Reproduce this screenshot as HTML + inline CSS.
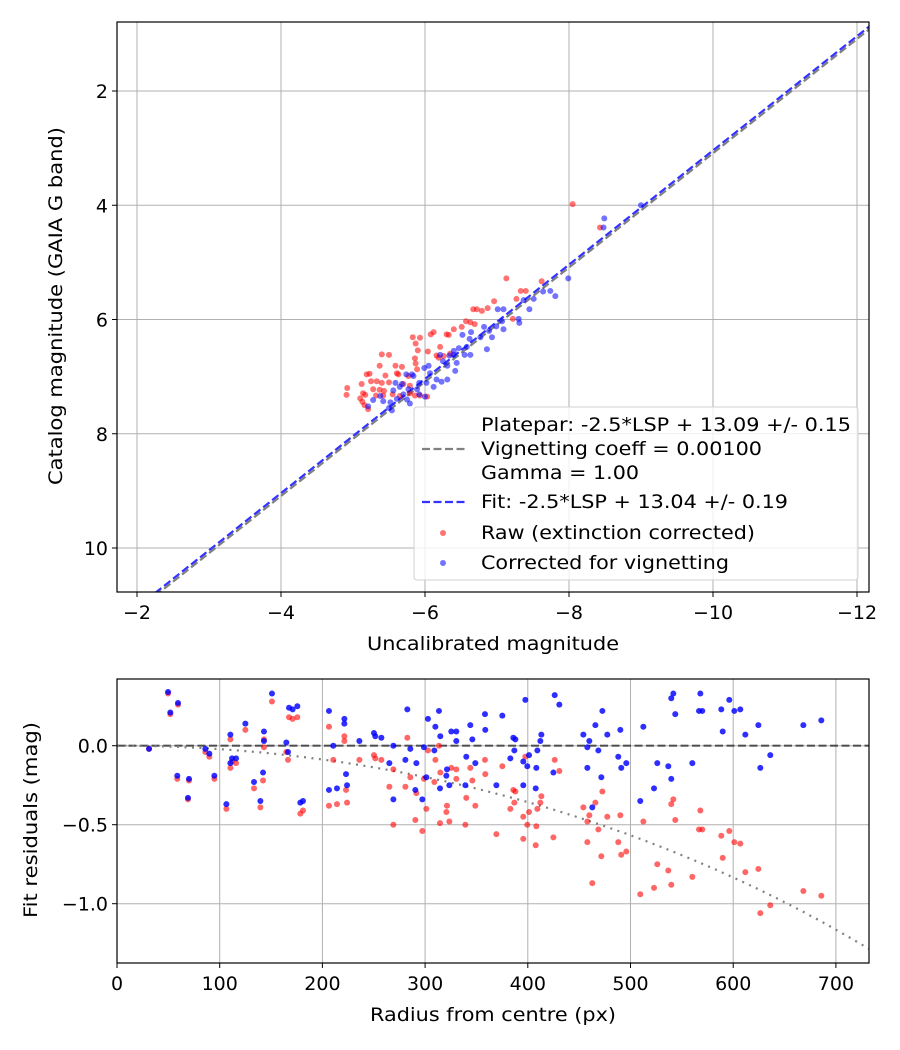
<!DOCTYPE html>
<html><head><meta charset="utf-8"><style>
html,body{margin:0;padding:0;background:#fff}
svg{display:block;font-family:"DejaVu Sans","Liberation Sans",sans-serif}
</style></head><body>
<svg id="fig" width="900" height="1050" viewBox="0 0 900 1050">
<rect width="900" height="1050" fill="#fff"/>
<g id="topPlot"></g>
<g id="botPlot"></g>
</svg>
<script>
// ---- top chart data ----
const rawX = [-8.05,-8.43,-7.13,-7.62,-7.33,-7.40,-7.27,-6.96,-6.67,-6.72,-6.79,-6.87,-6.57,-6.63,-6.69,-7.22,-6.51,-6.40,-6.12,-6.08,-6.30,-6.33,-5.83,-5.93,-5.87,-5.90,-6.04,-6.21,-5.40,-5.50,-6.16,-5.59,-5.68,-5.37,-5.86,-5.87,-5.89,-5.19,-5.23,-5.45,-5.61,-5.63,-5.77,-5.12,-5.25,-5.33,-5.40,-5.50,-4.92,-4.91,-5.14,-5.17,-5.28,-5.37,-5.43,-5.10,-5.13,-5.16,-5.21,-5.32,-5.42,-5.55,-5.65,-5.79,-5.86,-5.93,-6.03,-5.70,-5.79,-6.19,-6.26,-6.35];
const rawY = [3.98,4.39,5.28,5.33,5.50,5.50,5.64,5.68,5.82,5.82,5.85,5.80,6.03,6.05,6.08,5.99,6.13,6.17,6.22,6.26,6.26,6.27,6.31,6.32,6.42,6.54,6.56,6.48,6.61,6.62,6.63,6.81,6.83,6.81,6.68,6.77,6.87,6.96,6.95,6.98,6.94,6.96,6.99,7.13,7.08,7.08,7.11,7.10,7.20,7.32,7.29,7.32,7.22,7.23,7.25,7.38,7.44,7.50,7.57,7.33,7.33,7.31,7.34,7.29,7.33,7.33,7.35,7.13,7.16,6.67,6.64,6.60];
const corX = [-9.0,-8.49,-8.48,-7.99,-7.74,-7.81,-7.64,-7.51,-7.45,-7.37,-7.30,-7.31,-7.09,-7.01,-7.07,-7.09,-6.82,-6.89,-6.93,-6.99,-6.77,-6.86,-6.64,-6.52,-6.62,-6.58,-6.63,-6.55,-6.47,-6.40,-6.40,-6.34,-6.44,-6.42,-6.25,-6.31,-6.21,-6.05,-5.99,-6.07,-6.16,-6.23,-6.31,-6.12,-6.02,-5.92,-5.84,-5.74,-5.82,-5.68,-5.59,-5.56,-5.65,-5.77,-5.89,-5.52,-5.61,-5.70,-5.79,-5.75,-5.38,-5.42,-5.28,-5.21,-5.50,-5.54,-6.00,-5.92];
const corY = [4.0,4.23,4.39,5.28,5.50,5.59,5.51,5.64,5.82,5.66,5.99,6.06,5.82,5.82,6.03,6.17,6.13,6.20,6.31,6.12,6.31,6.52,6.22,6.27,6.34,6.48,6.62,6.62,6.50,6.62,6.55,6.63,6.76,6.90,6.73,6.81,6.62,6.81,6.85,6.94,7.05,7.09,7.05,7.18,7.11,7.11,6.99,6.96,6.96,7.13,7.11,7.24,7.18,7.22,7.22,7.45,7.39,7.31,7.47,7.40,7.34,7.43,7.41,7.52,7.55,7.59,7.35,7.31];
const platepar = 13.09, fitZero = 13.04, vignCoeff = 0.001;
const topXTicks = [-2,-4,-6,-8,-10,-12];
const topYTicks = [2,4,6,8,10];
// ---- bottom chart data ----
const radius = [49.7,59.4,51.9,31.2,86,89.9,58.7,70.1,69.1,94.8,110.4,125,112,115.9,110.4,143.1,143.1,164.9,166.5,150.9,167.5,171,175.6,106.5,133.4,142.2,139.6,178.5,181.1,206.4,221.4,221.4,210.6,236,250.2,251.5,257.4,269.1,282.7,285.6,265.2,280.8,291.5,223,224,214.2,206.4,269.1,290.5,297.3,298.9,302.8,310,313.5,314.8,325.5,330.4,330.4,344,346,358.3,358.6,309,301.2,314.5,320.7,321.3,323.6,340.1,348.9,339.2,
375.2,397.6,385.9,387.9,386.9,383,395.6,399.5,401.2,409.3,412.2,413.2,408.3,407.7,395.6,369.4,426.2,430.7,424.9,454.1,459.9,458,465.8,472.6,468.7,458,471.6,462.8,477.4,490.1,488.1,491,495.9,512.5,509.5,526.1,522.9,536.8,539.7,539.7,541.7,543.6,560.2,568,566.7,569.9,588.4,589.8,596.2,601.1,606.9,611.8,624.5,626.4,636.1,668.3,685.8];
const resCorr = [0.34,0.27,0.21,-0.02,-0.02,-0.05,-0.19,-0.21,-0.33,-0.19,0.07,0.14,-0.08,-0.08,-0.11,0.09,0.03,0.02,-0.04,0.33,0.24,0.23,0.25,-0.37,-0.23,-0.17,-0.35,-0.36,-0.35,0.22,0.17,0.14,0.00,0.03,0.08,0.06,0.05,0.00,0.23,-0.02,-0.11,-0.09,-0.11,-0.18,-0.25,-0.27,-0.28,-0.34,-0.28,-0.34,-0.01,0.17,0.12,0.22,0.06,0.09,0.09,0.03,0.13,0.04,0.20,0.10,-0.03,-0.20,-0.27,-0.19,-0.15,-0.25,-0.07,-0.11,-0.25,
0.19,0.29,0.05,0.04,-0.03,-0.08,-0.10,-0.13,-0.06,-0.03,0.03,0.07,-0.14,-0.27,-0.25,-0.25,0.32,0.26,-0.17,0.07,0.03,-0.01,0.13,0.22,-0.03,-0.14,-0.20,-0.39,0.07,0.10,-0.07,-0.14,-0.11,0.12,-0.35,-0.11,-0.27,-0.13,-0.21,0.30,0.33,0.20,-0.11,0.33,0.22,0.22,0.23,0.09,0.29,0.22,0.23,0.07,0.13,-0.14,-0.06,0.13,0.16];
const resRaw = [0.33,0.26,0.20,-0.02,-0.04,-0.07,-0.21,-0.22,-0.34,-0.21,0.04,0.10,-0.10,-0.11,-0.14,0.04,-0.01,-0.04,-0.09,0.28,0.18,0.17,0.18,-0.40,-0.27,-0.22,-0.39,-0.43,-0.41,0.12,0.06,0.03,-0.09,-0.09,-0.06,-0.08,-0.09,-0.15,0.05,-0.20,-0.26,-0.26,-0.30,-0.28,-0.36,-0.37,-0.38,-0.50,-0.47,-0.54,-0.21,-0.03,-0.09,0.00,-0.17,-0.14,-0.15,-0.21,-0.14,-0.22,-0.09,-0.18,-0.23,-0.40,-0.49,-0.42,-0.38,-0.48,-0.33,-0.38,-0.50,
-0.13,-0.07,-0.28,-0.29,-0.36,-0.40,-0.45,-0.50,-0.42,-0.40,-0.36,-0.32,-0.51,-0.63,-0.59,-0.56,-0.09,-0.16,-0.58,-0.39,-0.44,-0.48,-0.36,-0.29,-0.53,-0.61,-0.70,-0.87,-0.45,-0.44,-0.61,-0.69,-0.67,-0.48,-0.94,-0.75,-0.90,-0.79,-0.88,-0.37,-0.34,-0.47,-0.83,-0.41,-0.53,-0.53,-0.57,-0.71,-0.54,-0.61,-0.62,-0.80,-0.78,-1.06,-1.01,-0.92,-0.95];
const botXTicks = [0,100,200,300,400,500,600,700];
const botYTicks = [0.0,-0.5,-1.0];
const botYLabels = ["0.0","\u22120.5","\u22121.0"];

const NS = "http://www.w3.org/2000/svg";
const FS = 19;
function mk(parent, tag, attrs, text){
  const e = document.createElementNS(NS, tag);
  for (const k in attrs) e.setAttribute(k, attrs[k]);
  if (text !== undefined) e.textContent = text;
  parent.appendChild(e); return e;
}
function fmtNeg(v){ return v < 0 ? "\u2212" + Math.abs(v) : String(v); }

// ---------- TOP ----------
const T = {l:117, r:869, t:22, b:592};
const tx = v => 137 + (-2 - v) * 72;
const ty = v => 91 + (v - 2) * 57.125;
const topG = document.getElementById('topPlot');
const cp = mk(topG,'clipPath',{id:'cpTop'}); mk(cp,'rect',{x:T.l,y:T.t,width:T.r-T.l,height:T.b-T.t});
topXTicks.forEach(v=>{
  const g = mk(topG,'line',{x1:tx(v),x2:tx(v),y1:T.t,y2:T.b,stroke:'#b0b0b0','stroke-width':1});
  
  
  mk(topG,'line',{x1:tx(v),x2:tx(v),y1:T.b,y2:T.b+5,stroke:'#000','stroke-width':1});
  const t = mk(topG,'text',{x:tx(v),y:T.b+27,'font-size':FS,'text-anchor':'middle'},fmtNeg(v));
  
  
});
topYTicks.forEach(v=>{
  const g = mk(topG,'line',{x1:T.l,x2:T.r,y1:ty(v),y2:ty(v),stroke:'#b0b0b0','stroke-width':1});
  
  
  mk(topG,'line',{x1:T.l-5,x2:T.l,y1:ty(v),y2:ty(v),stroke:'#000','stroke-width':1});
  const t = mk(topG,'text',{x:T.l-9,y:ty(v)+7,'font-size':FS,'text-anchor':'end'},String(v));
  
  
});
const tc = mk(topG,'g',{'clip-path':'url(#cpTop)'});
const xa = -1.5, xb = -12.5;
const pl = mk(tc,'line',{x1:tx(xa),y1:ty(xa+platepar),x2:tx(xb),y2:ty(xb+platepar),stroke:'#808080','stroke-width':2.2,'stroke-dasharray':'8,3.5'});


const fl = mk(tc,'line',{x1:tx(xa),y1:ty(xa+fitZero),x2:tx(xb),y2:ty(xb+fitZero),stroke:'#3333ff','stroke-width':2.2,'stroke-dasharray':'8,3.5'});


rawX.forEach((x,i)=>{
  const c = mk(tc,'circle',{cx:tx(x),cy:ty(rawY[i]),r:3,fill:'rgba(255,0,0,0.55)'});
  
  
});
corX.forEach((x,i)=>{
  const c = mk(tc,'circle',{cx:tx(x),cy:ty(corY[i]),r:3,fill:'rgba(0,0,255,0.55)'});
  
  
});
mk(topG,'rect',{x:T.l,y:T.t,width:T.r-T.l,height:T.b-T.t,fill:'none',stroke:'#000','stroke-width':1.2});
// legend
const lg = mk(topG,'g',{});


mk(lg,'rect',{x:414,y:407,width:444,height:173,rx:3,fill:'rgba(255,255,255,0.8)',stroke:'#d0d0d0','stroke-width':1});
mk(lg,'line',{x1:422,x2:465,y1:449,y2:449,stroke:'#808080','stroke-width':2.2,'stroke-dasharray':'8,3.5'});
mk(lg,'line',{x1:422,x2:465,y1:502,y2:502,stroke:'#3333ff','stroke-width':2.2,'stroke-dasharray':'8,3.5'});
mk(lg,'circle',{cx:443,cy:533,r:3,fill:'rgba(255,0,0,0.55)'});
mk(lg,'circle',{cx:443,cy:563,r:3,fill:'rgba(0,0,255,0.55)'});
[["Platepar: -2.5*LSP + 13.09 +/- 0.15",431,370],["Vignetting coeff = 0.00100",455,281],["Gamma = 1.00",479,158],["Fit: -2.5*LSP + 13.04 +/- 0.19",508,307],["Raw (extinction corrected)",539,274],["Corrected for vignetting",569,248]].forEach(([s,y,w])=>{
  const t = mk(lg,'text',{x:481,y:y,'font-size':FS,textLength:w,lengthAdjust:'spacingAndGlyphs'},s);
  
  
});
const xl = mk(topG,'text',{x:493,y:650,'font-size':FS,'text-anchor':'middle',textLength:252,lengthAdjust:'spacingAndGlyphs'},'Uncalibrated magnitude');


const yl = mk(topG,'text',{x:0,y:0,'font-size':FS,'text-anchor':'middle',textLength:358,lengthAdjust:'spacingAndGlyphs',transform:'translate(62,306) rotate(-90)'},'Catalog magnitude (GAIA G band)');



// ---------- BOTTOM ----------
const B = {l:117, r:869, t:679, b:963};
const bx = v => 117 + v * 1.027;
const byy = v => 745.7 - v * 158;
const botG = document.getElementById('botPlot');
const cp2 = mk(botG,'clipPath',{id:'cpBot'}); mk(cp2,'rect',{x:B.l,y:B.t,width:B.r-B.l,height:B.b-B.t});
botXTicks.forEach(v=>{
  const g = mk(botG,'line',{x1:bx(v),x2:bx(v),y1:B.t,y2:B.b,stroke:'#b0b0b0','stroke-width':1});
  
  
  mk(botG,'line',{x1:bx(v),x2:bx(v),y1:B.b,y2:B.b+5,stroke:'#000','stroke-width':1});
  const t = mk(botG,'text',{x:bx(v),y:B.b+27,'font-size':FS,'text-anchor':'middle'},String(v));
  
  
});
botYTicks.forEach((v,i)=>{
  const g = mk(botG,'line',{x1:B.l,x2:B.r,y1:byy(v),y2:byy(v),stroke:'#b0b0b0','stroke-width':1});
  
  
  mk(botG,'line',{x1:B.l-5,x2:B.l,y1:byy(v),y2:byy(v),stroke:'#000','stroke-width':1});
  const t = mk(botG,'text',{x:B.l-9,y:byy(v)+7,'font-size':FS,'text-anchor':'end'},botYLabels[i]);
  
  
});
const bc = mk(botG,'g',{'clip-path':'url(#cpBot)'});
const zl = mk(bc,'line',{x1:B.l,x2:B.r,y1:byy(0),y2:byy(0),stroke:'rgba(0,0,0,0.6)','stroke-width':2.2,'stroke-dasharray':'8,3.5'});


let d = '';
for (let r = 0; r <= 740; r += 5) {
  const v = 10 * Math.log10(Math.cos(vignCoeff * r));
  d += (r ? 'L' : 'M') + bx(r).toFixed(1) + ',' + byy(v).toFixed(1);
}
const vc = mk(bc,'path',{d:d,fill:'none',stroke:'#808080','stroke-width':2.2,'stroke-dasharray':'2,5.5'});


radius.forEach((r,i)=>{
  const c = mk(bc,'circle',{cx:bx(r),cy:byy(resRaw[i]),r:3,fill:'rgba(255,0,0,0.6)'});
  
  
});
radius.forEach((r,i)=>{
  const c = mk(bc,'circle',{cx:bx(r),cy:byy(resCorr[i]),r:3,fill:'rgba(0,0,255,0.82)'});
  
  
});
mk(botG,'rect',{x:B.l,y:B.t,width:B.r-B.l,height:B.b-B.t,fill:'none',stroke:'#000','stroke-width':1.2});
const xl2 = mk(botG,'text',{x:493,y:1021,'font-size':FS,'text-anchor':'middle',textLength:246,lengthAdjust:'spacingAndGlyphs'},'Radius from centre (px)');


const yl2 = mk(botG,'text',{x:0,y:0,'font-size':FS,'text-anchor':'middle',textLength:196,lengthAdjust:'spacingAndGlyphs',transform:'translate(37,820) rotate(-90)'},'Fit residuals (mag)');


</script>
</body></html>
